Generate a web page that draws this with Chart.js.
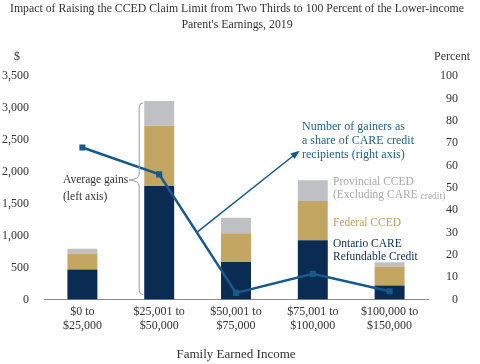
<!DOCTYPE html>
<html>
<head>
<meta charset="utf-8">
<script src="https://cdn.jsdelivr.net/npm/chart.js@4/dist/chart.umd.min.js"></script>
<style>
  html, body { margin: 0; padding: 0; background: #fff; }
  #wrap { width: 480px; height: 364px; position: relative; }
</style>
</head>
<body>
<div id="wrap"><canvas id="myChart" width="480" height="364"></canvas></div>
<script>
// data
const categories = [['$0 to', '$25,000'], ['$25,001 to', '$50,000'], ['$50,001 to', '$75,000'], ['$75,001 to', '$100,000'], ['$100,000 to', '$150,000']];
const careCredit = [470, 1780, 590, 930, 220];
const federalCCED = [250, 940, 450, 615, 300];
const provincialCCED = [75, 390, 240, 325, 65];
const gainersShare = [68, 56, 3, 11.5, 3.7];
const leftTicks = [0, 500, 1000, 1500, 2000, 2500, 3000, 3500];
const rightTicks = [0, 10, 20, 30, 40, 50, 60, 70, 80, 90, 100];

const serif = '"Liberation Serif", "DejaVu Serif", serif';
const NAVY = '#0a2b52';
const TAN = '#c4a663';
const GREY = '#bfc0c4';
const LINE = '#18598b';

function txt(ctx, s, x, y, size, color, align) {
    ctx.font = size + 'px ' + serif;
    ctx.fillStyle = color;
    ctx.textAlign = align || 'left';
    ctx.textBaseline = 'middle';
    ctx.fillText(s, x, y);
}

// title, axis captions and the annotations
const extras = {
    id: 'extras',
    afterDatasetsDraw(chart) {
        const ctx = chart.ctx;
        const x = chart.scales.x, y = chart.scales.y;
        ctx.save();
        txt(ctx, 'Impact of Raising the CCED Claim Limit from Two Thirds to 100 Percent of the Lower-income', 237, 9, 11.8, '#333', 'center');
        txt(ctx, "Parent's Earnings, 2019", 237, 25, 11.8, '#333', 'center');
        txt(ctx, '$', 17, 57, 12, '#333', 'center');
        txt(ctx, 'Percent', 452, 57, 12, '#333', 'center');

        // brace around second bar
        const bx = x.getPixelForValue(1) - 20;
        const top = y.getPixelForValue(careCredit[1] + federalCCED[1] + provincialCCED[1]) + 2;
        const bot = y.getPixelForValue(0) - 5;
        const tip = 180;
        const w = 4;
        ctx.strokeStyle = '#9a9a9a';
        ctx.lineWidth = 1;
        ctx.beginPath();
        ctx.moveTo(bx + w, top);
        ctx.quadraticCurveTo(bx, top, bx, top + w);
        ctx.lineTo(bx, tip - 6);
        ctx.quadraticCurveTo(bx, tip - 1, bx - 10, tip);
        ctx.quadraticCurveTo(bx, tip + 1, bx, tip + 6);
        ctx.lineTo(bx, bot - w);
        ctx.quadraticCurveTo(bx, bot, bx + w, bot);
        ctx.stroke();
        txt(ctx, 'Average gains', 63, 180, 11.5, '#333');
        txt(ctx, '(left axis)', 63, 197, 11.5, '#333');

        // arrow from the line to its label
        const meta = chart.getDatasetMeta(3).data;
        const p2 = meta[1], p3 = meta[2];
        const t = 0.49;
        const sx = p2.x + (p3.x - p2.x) * t, sy = p2.y + (p3.y - p2.y) * t;
        const ex = 298, ey = 152;
        ctx.strokeStyle = LINE;
        ctx.fillStyle = LINE;
        ctx.lineWidth = 1.5;
        ctx.beginPath();
        ctx.moveTo(sx, sy);
        ctx.lineTo(ex, ey);
        ctx.stroke();
        const ang = Math.atan2(ey - sy, ex - sx);
        ctx.beginPath();
        ctx.moveTo(ex + 2 * Math.cos(ang), ey + 2 * Math.sin(ang));
        ctx.lineTo(ex - 7 * Math.cos(ang) + 3.5 * Math.sin(ang), ey - 7 * Math.sin(ang) - 3.5 * Math.cos(ang));
        ctx.lineTo(ex - 7 * Math.cos(ang) - 3.5 * Math.sin(ang), ey - 7 * Math.sin(ang) + 3.5 * Math.cos(ang));
        ctx.closePath();
        ctx.fill();

        txt(ctx, 'Number of gainers as', 302, 127, 12, '#1f5f91');
        txt(ctx, 'a share of CARE credit', 302, 141, 12, '#1f5f91');
        txt(ctx, 'recipients (right axis)', 302, 155, 12, '#1f5f91');

        txt(ctx, 'Provincial CCED', 333, 182, 11.5, '#a9a9ab');
        txt(ctx, '(Excluding CARE ', 333, 195, 11.5, '#a9a9ab');
        ctx.font = '11.5px ' + serif;
        const wEx = ctx.measureText('(Excluding CARE ').width;
        txt(ctx, 'credit)', 333 + wEx, 196, 9.5, '#a9a9ab');
        txt(ctx, 'Federal CCED', 333, 223, 11.5, '#bf9f5c');
        txt(ctx, 'Ontario CARE', 333, 244, 11.5, NAVY);
        txt(ctx, 'Refundable Credit', 333, 257, 11.5, NAVY);
        ctx.restore();
    }
};

const barOpts = { categoryPercentage: 1, barPercentage: 0.39, borderWidth: 0, order: 1, yAxisID: 'y' };

new Chart(document.getElementById('myChart').getContext('2d'), {
    type: 'bar',
    data: {
        labels: categories,
        datasets: [
            Object.assign({ label: 'Ontario CARE Refundable Credit', data: careCredit, backgroundColor: NAVY }, barOpts),
            Object.assign({ label: 'Federal CCED', data: federalCCED, backgroundColor: TAN }, barOpts),
            Object.assign({ label: 'Provincial CCED', data: provincialCCED, backgroundColor: GREY }, barOpts),
            {
                type: 'line',
                label: 'Number of gainers',
                data: gainersShare,
                yAxisID: 'y1',
                borderColor: LINE,
                backgroundColor: LINE,
                borderWidth: 2.5,
                pointStyle: 'rect',
                pointRadius: 2.5,
                tension: 0,
                order: 0
            }
        ]
    },
    options: {
        responsive: false,
        animation: false,
        layout: { padding: { top: 76, right: 22, bottom: 2, left: 0 } },
        plugins: { legend: { display: false }, tooltip: { enabled: false } },
        scales: {
            x: {
                stacked: true,
                grid: { display: false, drawTicks: false },
                border: { display: true, color: '#8a8a8a', width: 1 },
                ticks: { padding: 5, color: '#333', font: { family: serif, size: 12 } },
                title: { display: true, text: 'Family Earned Income', color: '#333', font: { family: serif, size: 13 }, padding: { top: 8, bottom: 0 } }
            },
            y: {
                stacked: true,
                position: 'left',
                min: 0,
                max: 3500,
                grid: { display: false, drawTicks: false },
                border: { display: false },
                afterFit(s) { s.width = 44; },
                afterBuildTicks(s) { s.ticks = leftTicks.map(v => ({ value: v })); },
                ticks: {
                    padding: 15,
                    color: '#333',
                    font: { family: serif, size: 12 },
                    callback: v => v.toLocaleString('en-US')
                }
            },
            y1: {
                position: 'right',
                min: 0,
                max: 100,
                grid: { display: false, drawTicks: false },
                border: { display: false },
                afterFit(s) { s.width = 30; },
                afterBuildTicks(s) { s.ticks = rightTicks.map(v => ({ value: v })); },
                ticks: { crossAlign: 'far', color: '#333', font: { family: serif, size: 12 } }
            }
        }
    },
    plugins: [extras]
});
</script>
</body>
</html>
